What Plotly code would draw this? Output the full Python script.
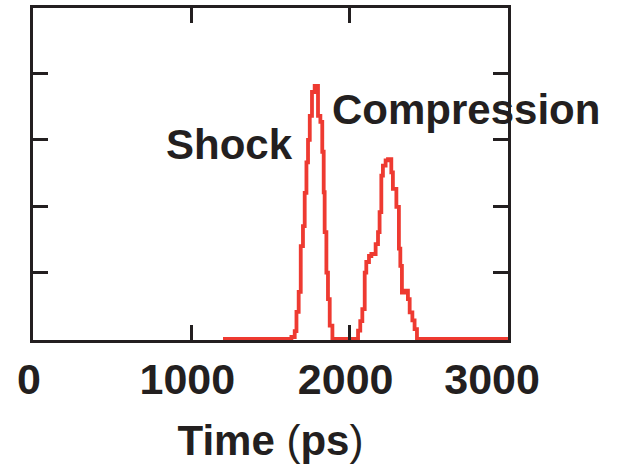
import plotly.graph_objects as go

# Data (step histogram; x = left edge of each step)
time_ps = [1200, 1632, 1653, 1664, 1678, 1691, 1705, 1716, 1727, 1737,
           1748, 1762, 1779, 1800, 1815, 1827, 1836, 1842, 1853, 1863,
           1874, 1891, 2053, 2067, 2080, 2095, 2105, 2122, 2137, 2164,
           2179, 2189, 2200, 2210, 2227, 2242, 2263, 2273, 2295, 2311,
           2320, 2330, 2347, 2368, 2379, 2396, 2410, 2425, 3000]
signal = [0, 0.03, 0.12, 0.41, 0.71, 1.4, 1.7, 2.2, 2.66, 3.0,
          3.36, 3.72, 3.81, 3.36, 3.27, 2.82, 2.21, 1.61, 1.0, 0.6,
          0.2, 0, 0.125, 0.27, 0.45, 1.0, 1.16, 1.25, 1.28, 1.43,
          1.61, 1.91, 2.46, 2.61, 2.69, 2.71, 2.51, 2.26, 1.99, 1.36,
          1.10, 0.70, 0.73, 0.60, 0.40, 0.28, 0.15, 0, 0]

x_ticks = [0, 1000, 2000, 3000]
x_tick_labels = ["0", "1000", "2000", "3000\u00a0\u00a0"]
y_ticks = [1, 2, 3, 4]

labels = ["Shock", "Compression"]
label_x = [1238, 2735]
label_y = [2.935, 3.455]

INK = "#231f20"
RED = "#ee3a31"
FONT = "Liberation Sans, Arial, sans-serif"

fig = go.Figure()
fig.add_trace(go.Scatter(
    x=time_ps, y=signal, mode="lines",
    line=dict(color=RED, width=3.8, shape="hv"),
    hoverinfo="skip", showlegend=False,
))

for t, x, y in zip(labels, label_x, label_y):
    fig.add_annotation(x=x, y=y, xref="x", yref="y", text="<b>%s</b>" % t,
                       showarrow=False, xanchor="center", yanchor="middle",
                       font=dict(family=FONT, size=42, color=INK))

fig.update_layout(
    width=618, height=469,
    margin=dict(l=33, r=110, t=8, b=129, autoexpand=False),
    paper_bgcolor="white", plot_bgcolor="white",
    font=dict(family=FONT, color=INK),
    xaxis=dict(
        range=[0, 3000], tickvals=x_ticks, ticktext=["<b>%s</b>" % s for s in x_tick_labels],
        ticks="inside", ticklen=15, tickwidth=2.5, tickcolor=INK,
        showline=True, linecolor=INK, linewidth=2.5, mirror="ticks",
        showgrid=False, zeroline=False, automargin=False,
        tickfont=dict(family=FONT, size=43, color=INK),
        ticklabelshift=-4,
        title=dict(text="<b>Time </b>(<b>ps</b>)", font=dict(family=FONT, size=42, color=INK), standoff=24),
    ),
    yaxis=dict(
        range=[-0.015, 4.985], tickvals=y_ticks, showticklabels=False,
        ticks="inside", ticklen=15, tickwidth=2.5, tickcolor=INK,
        showline=True, linecolor=INK, linewidth=2.5, mirror="ticks",
        showgrid=False, zeroline=False, automargin=False,
    ),
)

fig.write_html("out.html", config={"displayModeBar": False},
               post_script="document.body.style.margin='0';document.body.style.padding='0';")
